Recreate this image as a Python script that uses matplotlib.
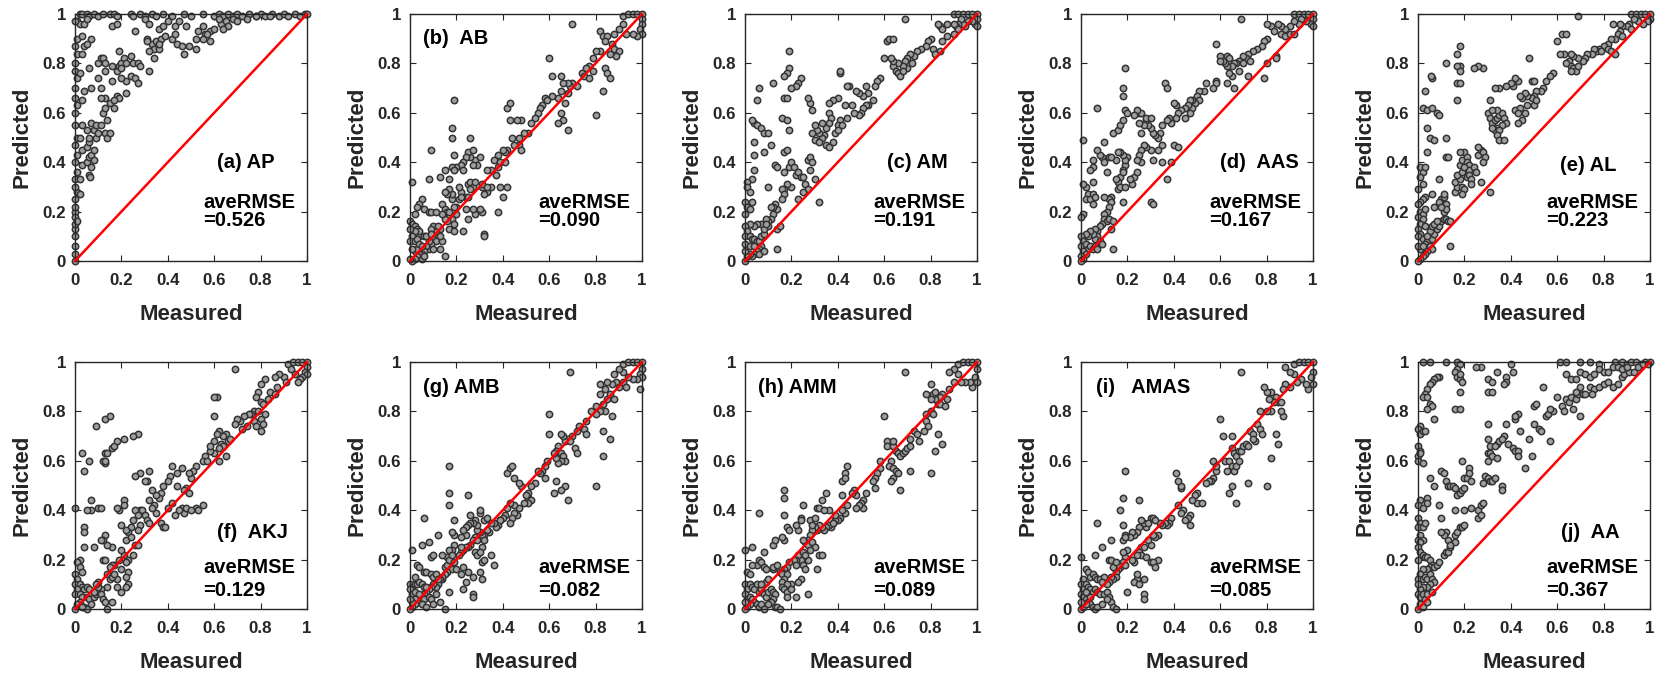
import matplotlib
matplotlib.use('Agg')
import matplotlib.pyplot as plt
import numpy as np

plt.rcParams['font.family'] = ['Liberation Sans', 'DejaVu Sans']
plt.rcParams['font.weight'] = 'bold'

TICKS = [0, 0.2, 0.4, 0.6, 0.8, 1]
TICK_LABELS = ['0', '0.2', '0.4', '0.6', '0.8', '1']

# (measured, predicted) pairs
AP_POINTS = [
    (0.02, 1.0), (0.03, 1.0), (0.05, 1.0), (0.06, 0.99), (0.08, 1.0), (0.1, 0.99), (0.12, 1.0), (0.15, 1.0),
    (0.17, 1.0), (0.18, 0.99), (0.24, 1.0), (0.25, 0.99), (0.28, 1.0), (0.3, 0.99), (0.33, 1.0), (0.35, 0.99),
    (0.38, 1.0), (0.42, 0.99), (0.47, 1.0), (0.5, 0.99), (0.55, 1.0), (0.6, 0.99), (0.62, 1.0), (0.64, 0.99),
    (0.66, 1.0), (0.68, 0.99), (0.7, 1.0), (0.72, 0.99), (0.75, 1.0), (0.78, 0.99), (0.8, 1.0), (0.82, 0.99),
    (0.85, 1.0), (0.88, 0.99), (0.9, 1.0), (0.92, 0.99), (0.95, 1.0), (0.97, 0.99), (0.99, 1.0), (1.0, 1.0),
    (0.01, 0.97), (0.02, 0.96), (0.04, 0.96), (0.05, 0.98), (0.16, 0.95), (0.18, 0.96), (0.3, 0.98), (0.32, 0.96),
    (0.4, 0.97), (0.43, 0.95), (0.45, 0.97), (0.48, 0.95), (0.53, 0.93), (0.55, 0.95), (0.56, 0.92), (0.58, 0.93),
    (0.6, 0.94), (0.63, 0.96), (0.65, 0.97), (0.66, 0.95), (0.64, 0.94), (0.68, 0.98), (0.7, 0.97), (0.74, 0.98),
    (0.78, 0.99), (0.84, 0.99), (0.62, 0.98), (0.31, 0.9), (0.33, 0.88), (0.34, 0.86), (0.35, 0.89), (0.36, 0.86),
    (0.37, 0.9), (0.39, 0.91), (0.42, 0.9), (0.43, 0.92), (0.44, 0.88), (0.46, 0.87), (0.47, 0.84), (0.49, 0.87),
    (0.52, 0.9), (0.52, 0.86), (0.55, 0.9), (0.57, 0.92), (0.58, 0.89), (0.36, 0.94), (0.38, 0.95), (0.26, 0.93),
    (0.0, 0.0), (0.0, 0.03), (0.0, 0.1), (0.0, 0.13), (0.0, 0.15), (0.0, 0.2), (0.0, 0.22), (0.0, 0.25),
    (0.01, 0.28), (0.0, 0.3), (0.0, 0.33), (0.01, 0.36), (0.0, 0.4), (0.01, 0.43), (0.0, 0.47), (0.01, 0.5),
    (0.0, 0.55), (0.0, 0.6), (0.01, 0.63), (0.0, 0.66), (0.0, 0.7), (0.01, 0.74), (0.0, 0.77), (0.0, 0.8),
    (0.01, 0.84), (0.0, 0.87), (0.01, 0.9), (0.0, 0.97), (0.0, 0.18), (0.01, 0.16), (0.0, 0.06),
    (0.02, 0.27), (0.02, 0.33), (0.03, 0.39), (0.03, 0.45), (0.02, 0.5), (0.03, 0.55), (0.03, 0.65), (0.04, 0.69),
    (0.02, 0.76), (0.03, 0.84), (0.04, 0.87), (0.03, 0.91), (0.05, 0.4), (0.05, 0.46), (0.06, 0.42), (0.06, 0.48),
    (0.07, 0.43), (0.07, 0.38), (0.08, 0.45), (0.08, 0.41), (0.06, 0.35), (0.065, 0.34), (0.06, 0.5), (0.05, 0.53),
    (0.07, 0.56), (0.08, 0.53), (0.09, 0.5), (0.1, 0.52), (0.09, 0.55), (0.11, 0.55), (0.13, 0.52), (0.14, 0.57),
    (0.12, 0.6), (0.13, 0.62), (0.15, 0.64), (0.13, 0.66), (0.11, 0.66), (0.11, 0.7), (0.1, 0.74), (0.07, 0.7),
    (0.06, 0.78), (0.1, 0.8), (0.11, 0.82), (0.12, 0.82), (0.13, 0.8), (0.16, 0.79), (0.18, 0.77), (0.19, 0.79),
    (0.2, 0.8), (0.21, 0.82), (0.2, 0.78), (0.22, 0.8), (0.25, 0.8), (0.27, 0.8), (0.28, 0.79), (0.24, 0.75),
    (0.22, 0.73), (0.26, 0.74), (0.27, 0.72), (0.22, 0.68), (0.18, 0.67), (0.19, 0.66), (0.17, 0.65), (0.17, 0.62),
    (0.2, 0.74), (0.16, 0.73), (0.13, 0.77), (0.19, 0.85), (0.24, 0.83), (0.31, 0.89), (0.32, 0.85), (0.36, 0.88),
    (0.34, 0.82), (0.32, 0.77), (0.14, 0.5), (0.15, 0.52), (0.07, 0.9), (0.05, 0.88),
]

AB_POINTS = [
    (0.92, 0.99), (0.94, 1.0), (0.96, 1.0), (0.98, 1.0), (1.0, 1.0), (1.0, 0.98), (1.0, 0.96), (0.99, 0.94),
    (1.0, 0.92), (0.98, 0.91), (0.96, 0.92), (0.93, 0.92), (0.92, 0.96), (0.9, 0.94), (0.88, 0.92), (0.7, 0.96),
    (0.82, 0.93), (0.83, 0.91), (0.85, 0.91), (0.84, 0.89), (0.87, 0.88), (0.88, 0.86), (0.9, 0.85), (0.89, 0.83),
    (0.86, 0.84), (0.82, 0.85), (0.8, 0.85), (0.79, 0.82), (0.77, 0.79), (0.76, 0.78), (0.74, 0.76), (0.75, 0.75),
    (0.77, 0.74), (0.79, 0.77), (0.84, 0.78), (0.85, 0.76), (0.86, 0.74), (0.8, 0.59), (0.83, 0.69), (0.72, 0.71),
    (0.7, 0.72), (0.69, 0.71), (0.68, 0.72), (0.66, 0.72), (0.65, 0.69), (0.64, 0.66), (0.67, 0.64), (0.68, 0.68),
    (0.66, 0.57), (0.68, 0.53), (0.65, 0.6), (0.64, 0.56), (0.6, 0.82), (0.61, 0.75), (0.65, 0.75), (0.58, 0.66),
    (0.59, 0.65), (0.61, 0.67), (0.57, 0.63), (0.56, 0.62), (0.55, 0.6), (0.54, 0.58), (0.52, 0.56), (0.51, 0.52),
    (0.49, 0.52), (0.48, 0.57), (0.46, 0.57), (0.43, 0.57), (0.42, 0.62), (0.43, 0.64), (0.47, 0.5), (0.44, 0.5),
    (0.47, 0.47), (0.48, 0.45), (0.45, 0.47), (0.42, 0.45), (0.41, 0.44), (0.4, 0.45), (0.38, 0.43), (0.36, 0.41),
    (0.38, 0.38), (0.37, 0.35), (0.35, 0.37), (0.33, 0.37), (0.35, 0.3), (0.31, 0.3), (0.33, 0.28), (0.32, 0.27),
    (0.31, 0.2), (0.28, 0.41), (0.3, 0.42), (0.29, 0.39), (0.27, 0.39), (0.26, 0.42), (0.25, 0.44), (0.27, 0.45),
    (0.26, 0.5), (0.24, 0.42), (0.23, 0.4), (0.22, 0.39), (0.2, 0.38), (0.23, 0.37), (0.25, 0.31), (0.26, 0.32),
    (0.27, 0.3), (0.28, 0.32), (0.26, 0.29), (0.24, 0.26), (0.22, 0.28), (0.21, 0.25), (0.2, 0.22), (0.2, 0.19),
    (0.19, 0.22), (0.18, 0.25), (0.18, 0.27), (0.17, 0.29), (0.16, 0.27), (0.15, 0.28), (0.14, 0.23), (0.15, 0.21),
    (0.16, 0.2), (0.17, 0.2), (0.18, 0.17), (0.19, 0.15), (0.17, 0.13), (0.16, 0.16), (0.15, 0.17), (0.14, 0.19),
    (0.13, 0.13), (0.12, 0.1), (0.11, 0.12), (0.1, 0.14), (0.09, 0.13), (0.1, 0.09), (0.11, 0.08), (0.09, 0.07),
    (0.08, 0.08), (0.08, 0.05), (0.07, 0.06), (0.06, 0.04), (0.05, 0.03), (0.04, 0.03), (0.03, 0.02), (0.02, 0.01),
    (0.01, 0.0), (0.0, 0.01), (0.02, 0.04), (0.03, 0.05), (0.05, 0.01), (0.06, 0.02), (0.15, 0.02), (0.04, 0.1),
    (0.19, 0.65), (0.18, 0.54), (0.18, 0.5), (0.19, 0.43), (0.18, 0.38), (0.19, 0.37), (0.17, 0.33), (0.09, 0.45),
    (0.08, 0.33), (0.13, 0.34), (0.15, 0.37), (0.05, 0.25), (0.04, 0.23), (0.01, 0.32), (0.03, 0.22), (0.02, 0.19),
    (0.06, 0.21), (0.08, 0.2), (0.09, 0.2), (0.11, 0.2), (0.0, 0.16), (0.01, 0.15), (0.02, 0.14), (0.03, 0.13),
    (0.04, 0.12), (0.02, 0.12), (0.01, 0.1), (0.0, 0.08), (0.02, 0.08), (0.03, 0.09), (0.04, 0.07), (0.01, 0.05),
    (0.0, 0.13), (0.06, 0.1), (0.05, 0.06), (0.07, 0.1), (0.09, 0.11), (0.12, 0.14), (0.1, 0.05), (0.14, 0.08),
    (0.13, 0.05), (0.23, 0.12), (0.25, 0.17), (0.28, 0.19), (0.3, 0.21), (0.31, 0.31), (0.33, 0.3), (0.38, 0.2),
    (0.32, 0.11), (0.32, 0.1), (0.19, 0.12), (0.4, 0.26), (0.42, 0.3), (0.39, 0.3), (0.39, 0.4), (0.41, 0.4),
    (0.21, 0.3), (0.22, 0.26), (0.24, 0.21), (0.27, 0.21), (0.25, 0.26), (0.13, 0.1),
]

AM_POINTS = [
    (0.9, 1.0), (0.92, 1.0), (0.94, 1.0), (0.96, 1.0), (0.98, 1.0), (1.0, 1.0), (1.0, 0.98), (0.99, 0.96),
    (1.0, 0.95), (0.98, 0.97), (0.96, 0.97), (0.95, 0.95), (0.94, 0.96), (0.93, 0.98), (0.92, 0.96), (0.91, 0.95),
    (0.92, 0.94), (0.9, 0.92), (0.9, 0.96), (0.87, 0.96), (0.84, 0.95), (0.85, 0.94), (0.83, 0.96), (0.87, 0.91),
    (0.69, 0.98), (0.85, 0.89), (0.84, 0.85), (0.8, 0.9), (0.79, 0.89), (0.81, 0.86), (0.82, 0.84), (0.78, 0.87),
    (0.76, 0.86), (0.74, 0.85), (0.73, 0.83), (0.71, 0.84), (0.7, 0.82), (0.69, 0.81), (0.72, 0.8), (0.7, 0.78),
    (0.68, 0.79), (0.66, 0.8), (0.64, 0.79), (0.65, 0.77), (0.66, 0.76), (0.67, 0.75), (0.68, 0.77), (0.64, 0.81),
    (0.63, 0.82), (0.61, 0.89), (0.62, 0.9), (0.64, 0.9), (0.6, 0.82), (0.58, 0.74), (0.57, 0.73), (0.56, 0.71),
    (0.52, 0.71), (0.53, 0.68), (0.51, 0.67), (0.49, 0.68), (0.48, 0.69), (0.55, 0.65), (0.53, 0.63), (0.52, 0.63),
    (0.51, 0.62), (0.5, 0.6), (0.49, 0.59), (0.47, 0.6), (0.46, 0.63), (0.43, 0.63), (0.44, 0.58), (0.41, 0.57),
    (0.4, 0.55), (0.39, 0.52), (0.38, 0.48), (0.4, 0.53), (0.42, 0.55), (0.45, 0.71), (0.44, 0.71), (0.41, 0.76),
    (0.41, 0.77), (0.4, 0.66), (0.38, 0.65), (0.36, 0.64), (0.36, 0.6), (0.37, 0.58), (0.36, 0.56), (0.35, 0.54),
    (0.34, 0.51), (0.33, 0.5), (0.32, 0.52), (0.31, 0.53), (0.3, 0.55), (0.29, 0.52), (0.3, 0.49), (0.32, 0.48),
    (0.35, 0.47), (0.36, 0.46), (0.33, 0.56), (0.29, 0.61), (0.28, 0.64), (0.27, 0.66), (0.24, 0.74), (0.23, 0.72),
    (0.22, 0.71), (0.2, 0.7), (0.19, 0.78), (0.18, 0.76), (0.17, 0.75), (0.19, 0.85), (0.17, 0.66), (0.18, 0.66),
    (0.16, 0.58), (0.18, 0.57), (0.19, 0.53), (0.12, 0.72), (0.06, 0.7), (0.05, 0.65), (0.04, 0.56), (0.03, 0.57),
    (0.05, 0.55), (0.07, 0.54), (0.08, 0.52), (0.1, 0.52), (0.04, 0.48), (0.04, 0.43), (0.08, 0.44), (0.04, 0.37),
    (0.03, 0.33), (0.01, 0.32), (0.01, 0.3), (0.02, 0.28), (0.0, 0.24), (0.01, 0.22), (0.02, 0.21), (0.0, 0.19),
    (0.03, 0.24), (0.11, 0.47), (0.13, 0.39), (0.14, 0.38), (0.17, 0.44), (0.18, 0.45), (0.17, 0.36), (0.19, 0.38),
    (0.2, 0.4), (0.21, 0.38), (0.22, 0.35), (0.23, 0.36), (0.24, 0.34), (0.25, 0.34), (0.26, 0.31), (0.27, 0.41),
    (0.28, 0.42), (0.29, 0.4), (0.28, 0.37), (0.3, 0.33), (0.27, 0.29), (0.2, 0.3), (0.18, 0.31), (0.17, 0.29),
    (0.16, 0.29), (0.17, 0.27), (0.16, 0.25), (0.23, 0.25), (0.25, 0.28), (0.32, 0.24), (0.1, 0.3), (0.14, 0.21),
    (0.13, 0.23), (0.12, 0.22), (0.11, 0.22), (0.12, 0.19), (0.11, 0.17), (0.1, 0.16), (0.09, 0.17), (0.1, 0.14),
    (0.07, 0.15), (0.05, 0.15), (0.04, 0.14), (0.02, 0.15), (0.0, 0.14), (0.01, 0.12), (0.0, 0.1), (0.02, 0.1),
    (0.03, 0.09), (0.04, 0.09), (0.05, 0.08), (0.06, 0.08), (0.07, 0.1), (0.08, 0.11), (0.07, 0.06), (0.06, 0.05),
    (0.05, 0.04), (0.04, 0.03), (0.03, 0.02), (0.02, 0.03), (0.01, 0.02), (0.0, 0.0), (0.0, 0.04), (0.01, 0.06),
    (0.0, 0.07), (0.02, 0.06), (0.04, 0.06), (0.06, 0.03), (0.08, 0.04), (0.14, 0.13), (0.15, 0.14), (0.14, 0.05),
    (0.08, 0.13), (0.09, 0.15),
]

AAS_POINTS = [
    (0.92, 1.0), (0.94, 1.0), (0.96, 1.0), (0.98, 1.0), (1.0, 1.0), (1.0, 0.98), (0.99, 0.96), (1.0, 0.95),
    (0.97, 0.97), (0.95, 0.98), (0.94, 0.96), (0.92, 0.97), (0.9, 0.95), (0.88, 0.94), (0.86, 0.95), (0.85, 0.96),
    (0.82, 0.95), (0.8, 0.96), (0.83, 0.93), (0.86, 0.92), (0.88, 0.91), (0.9, 0.92), (0.92, 0.92), (0.69, 0.98),
    (0.8, 0.9), (0.79, 0.89), (0.78, 0.87), (0.76, 0.86), (0.74, 0.85), (0.72, 0.84), (0.71, 0.82), (0.7, 0.83),
    (0.68, 0.81), (0.67, 0.8), (0.66, 0.8), (0.65, 0.79), (0.63, 0.79), (0.62, 0.8), (0.61, 0.81), (0.6, 0.83),
    (0.6, 0.81), (0.58, 0.88), (0.63, 0.83), (0.64, 0.82), (0.7, 0.8), (0.73, 0.81), (0.8, 0.8), (0.84, 0.83),
    (0.84, 0.82), (0.79, 0.74), (0.68, 0.77), (0.65, 0.75), (0.64, 0.76), (0.63, 0.72), (0.66, 0.7), (0.72, 0.75),
    (0.58, 0.73), (0.58, 0.72), (0.57, 0.7), (0.54, 0.72), (0.53, 0.69), (0.51, 0.69), (0.5, 0.67), (0.51, 0.65),
    (0.49, 0.64), (0.48, 0.65), (0.47, 0.65), (0.48, 0.62), (0.46, 0.63), (0.45, 0.62), (0.43, 0.61), (0.42, 0.6),
    (0.47, 0.6), (0.45, 0.58), (0.41, 0.58), (0.39, 0.56), (0.38, 0.58), (0.37, 0.57), (0.35, 0.55), (0.34, 0.52),
    (0.33, 0.5), (0.32, 0.51), (0.31, 0.52), (0.3, 0.54), (0.29, 0.55), (0.28, 0.57), (0.28, 0.58), (0.27, 0.55),
    (0.26, 0.52), (0.25, 0.56), (0.25, 0.6), (0.26, 0.6), (0.3, 0.58), (0.36, 0.72), (0.37, 0.7), (0.41, 0.63),
    (0.4, 0.64), (0.35, 0.47), (0.4, 0.47), (0.42, 0.46), (0.39, 0.4), (0.33, 0.45), (0.31, 0.41), (0.3, 0.45),
    (0.28, 0.46), (0.27, 0.47), (0.26, 0.45), (0.25, 0.43), (0.26, 0.4), (0.24, 0.41), (0.23, 0.34), (0.24, 0.36),
    (0.22, 0.31), (0.21, 0.33), (0.2, 0.42), (0.19, 0.39), (0.19, 0.41), (0.18, 0.43), (0.17, 0.44), (0.16, 0.44),
    (0.15, 0.41), (0.18, 0.37), (0.17, 0.34), (0.16, 0.32), (0.15, 0.33), (0.16, 0.29), (0.17, 0.3), (0.19, 0.3),
    (0.18, 0.36), (0.14, 0.52), (0.16, 0.53), (0.17, 0.55), (0.18, 0.57), (0.19, 0.61), (0.2, 0.6), (0.24, 0.61),
    (0.23, 0.59), (0.18, 0.67), (0.18, 0.7), (0.19, 0.78), (0.07, 0.62), (0.1, 0.48), (0.09, 0.42), (0.1, 0.4),
    (0.12, 0.42), (0.13, 0.42), (0.11, 0.36), (0.08, 0.43), (0.07, 0.45), (0.05, 0.41), (0.05, 0.38), (0.04, 0.37),
    (0.05, 0.32), (0.02, 0.3), (0.01, 0.31), (0.03, 0.27), (0.02, 0.25), (0.04, 0.25), (0.05, 0.27), (0.06, 0.26),
    (0.05, 0.23), (0.01, 0.49), (0.01, 0.19), (0.0, 0.18), (0.13, 0.26), (0.12, 0.25), (0.13, 0.24), (0.12, 0.22),
    (0.11, 0.2), (0.1, 0.19), (0.1, 0.17), (0.11, 0.16), (0.12, 0.17), (0.13, 0.13), (0.14, 0.16), (0.09, 0.15),
    (0.08, 0.14), (0.07, 0.12), (0.06, 0.13), (0.07, 0.1), (0.06, 0.09), (0.05, 0.11), (0.04, 0.12), (0.03, 0.1),
    (0.02, 0.11), (0.0, 0.1), (0.01, 0.08), (0.0, 0.06), (0.02, 0.07), (0.03, 0.05), (0.04, 0.06), (0.05, 0.05),
    (0.06, 0.06), (0.08, 0.08), (0.09, 0.07), (0.07, 0.05), (0.01, 0.04), (0.02, 0.03), (0.0, 0.02), (0.01, 0.01),
    (0.0, 0.0), (0.14, 0.05), (0.18, 0.24), (0.3, 0.24), (0.31, 0.23), (0.35, 0.4), (0.37, 0.33), (0.1, 0.26),
]

AL_POINTS = [
    (0.92, 1.0), (0.94, 1.0), (0.96, 1.0), (0.98, 1.0), (1.0, 1.0), (1.0, 0.98), (0.99, 0.97), (0.97, 0.96),
    (0.95, 0.97), (0.93, 0.98), (0.91, 0.96), (0.9, 0.95), (0.92, 0.94), (0.88, 0.95), (0.87, 0.93), (0.86, 0.92),
    (0.85, 0.9), (0.88, 0.91), (0.87, 0.96), (0.84, 0.96), (0.69, 0.99), (0.83, 0.9), (0.82, 0.88), (0.8, 0.87),
    (0.78, 0.86), (0.77, 0.85), (0.76, 0.86), (0.82, 0.86), (0.83, 0.85), (0.79, 0.85), (0.75, 0.84), (0.73, 0.84),
    (0.72, 0.82), (0.71, 0.81), (0.69, 0.82), (0.67, 0.83), (0.66, 0.84), (0.65, 0.81), (0.66, 0.79), (0.67, 0.78),
    (0.68, 0.77), (0.66, 0.77), (0.64, 0.8), (0.63, 0.84), (0.61, 0.84), (0.6, 0.89), (0.62, 0.92), (0.64, 0.92),
    (0.69, 0.79), (0.85, 0.84), (0.58, 0.76), (0.57, 0.75), (0.55, 0.73), (0.54, 0.7), (0.53, 0.69), (0.51, 0.69),
    (0.5, 0.67), (0.49, 0.66), (0.49, 0.73), (0.5, 0.73), (0.47, 0.67), (0.46, 0.68), (0.45, 0.66), (0.44, 0.67),
    (0.43, 0.73), (0.42, 0.74), (0.41, 0.71), (0.4, 0.72), (0.38, 0.71), (0.35, 0.7), (0.33, 0.7), (0.31, 0.65),
    (0.3, 0.6), (0.31, 0.58), (0.32, 0.56), (0.33, 0.57), (0.34, 0.58), (0.35, 0.59), (0.36, 0.6), (0.37, 0.58),
    (0.38, 0.56), (0.36, 0.55), (0.34, 0.54), (0.33, 0.53), (0.32, 0.54), (0.35, 0.53), (0.34, 0.51), (0.35, 0.49),
    (0.37, 0.49), (0.34, 0.61), (0.32, 0.61), (0.42, 0.61), (0.44, 0.62), (0.46, 0.6), (0.43, 0.6), (0.45, 0.57),
    (0.43, 0.56), (0.47, 0.63), (0.5, 0.63), (0.51, 0.65), (0.48, 0.82), (0.28, 0.78), (0.26, 0.79), (0.24, 0.78),
    (0.18, 0.79), (0.17, 0.79), (0.18, 0.77), (0.17, 0.72), (0.18, 0.72), (0.17, 0.65), (0.17, 0.84), (0.18, 0.87),
    (0.12, 0.8), (0.06, 0.74), (0.055, 0.75), (0.03, 0.69), (0.02, 0.62), (0.04, 0.61), (0.06, 0.62), (0.08, 0.6),
    (0.09, 0.59), (0.04, 0.54), (0.05, 0.5), (0.04, 0.44), (0.07, 0.49), (0.12, 0.5), (0.12, 0.42), (0.13, 0.42),
    (0.09, 0.33), (0.1, 0.25), (0.11, 0.26), (0.11, 0.2), (0.12, 0.23), (0.12, 0.21), (0.09, 0.24), (0.1, 0.22),
    (0.11, 0.27), (0.07, 0.22), (0.06, 0.27), (0.03, 0.26), (0.02, 0.25), (0.01, 0.24), (0.0, 0.23), (0.01, 0.2),
    (0.02, 0.19), (0.03, 0.21), (0.0, 0.18), (0.02, 0.17), (0.01, 0.15), (0.03, 0.14), (0.0, 0.13), (0.01, 0.11),
    (0.0, 0.1), (0.02, 0.09), (0.04, 0.08), (0.03, 0.07), (0.05, 0.06), (0.06, 0.05), (0.04, 0.04), (0.03, 0.03),
    (0.02, 0.02), (0.01, 0.01), (0.0, 0.0), (0.01, 0.05), (0.0, 0.06), (0.02, 0.06), (0.06, 0.09), (0.07, 0.11),
    (0.08, 0.13), (0.09, 0.14), (0.1, 0.16), (0.11, 0.17), (0.12, 0.17), (0.13, 0.16), (0.14, 0.16), (0.05, 0.12),
    (0.06, 0.14), (0.07, 0.15), (0.08, 0.16), (0.04, 0.1), (0.01, 0.38), (0.02, 0.36), (0.01, 0.34), (0.02, 0.31),
    (0.0, 0.29), (0.03, 0.38), (0.14, 0.06), (0.16, 0.28), (0.17, 0.3), (0.16, 0.32), (0.18, 0.33), (0.17, 0.35),
    (0.19, 0.36), (0.18, 0.39), (0.19, 0.41), (0.2, 0.44), (0.21, 0.42), (0.21, 0.4), (0.22, 0.39), (0.22, 0.37),
    (0.2, 0.38), (0.21, 0.34), (0.22, 0.35), (0.23, 0.33), (0.23, 0.31), (0.24, 0.38), (0.25, 0.36), (0.26, 0.43),
    (0.27, 0.45), (0.26, 0.46), (0.28, 0.44), (0.29, 0.42), (0.28, 0.4), (0.27, 0.32), (0.31, 0.28), (0.18, 0.44),
    (0.19, 0.3), (0.2, 0.29), (0.19, 0.27),
]

AKJ_POINTS = [
    (0.92, 0.99), (0.94, 1.0), (0.96, 1.0), (0.98, 1.0), (1.0, 1.0), (1.0, 0.98), (0.99, 0.96), (1.0, 0.95),
    (0.98, 0.94), (0.97, 0.93), (0.96, 0.92), (0.95, 0.95), (0.93, 0.97), (0.9, 0.94), (0.91, 0.92), (0.88, 0.95),
    (0.86, 0.94), (0.87, 0.9), (0.84, 0.88), (0.86, 0.87), (0.82, 0.93), (0.8, 0.91), (0.79, 0.88), (0.8, 0.84),
    (0.78, 0.86), (0.81, 0.83), (0.83, 0.85), (0.82, 0.79), (0.8, 0.77), (0.77, 0.8), (0.76, 0.79), (0.75, 0.79),
    (0.73, 0.78), (0.71, 0.76), (0.7, 0.77), (0.69, 0.75), (0.74, 0.74), (0.72, 0.73), (0.77, 0.76), (0.78, 0.74),
    (0.79, 0.8), (0.81, 0.75), (0.8, 0.72), (0.69, 0.97), (0.65, 0.71), (0.64, 0.7), (0.66, 0.68), (0.67, 0.69),
    (0.62, 0.72), (0.61, 0.71), (0.6, 0.68), (0.63, 0.67), (0.64, 0.66), (0.62, 0.65), (0.65, 0.62), (0.62, 0.6),
    (0.6, 0.63), (0.58, 0.64), (0.58, 0.66), (0.56, 0.62), (0.55, 0.6), (0.52, 0.58), (0.57, 0.6), (0.61, 0.86),
    (0.6, 0.86), (0.6, 0.78), (0.51, 0.56), (0.5, 0.53), (0.49, 0.55), (0.48, 0.49), (0.47, 0.48), (0.49, 0.47),
    (0.46, 0.57), (0.44, 0.55), (0.42, 0.58), (0.41, 0.54), (0.4, 0.52), (0.38, 0.5), (0.37, 0.47), (0.36, 0.45),
    (0.35, 0.46), (0.34, 0.42), (0.33, 0.41), (0.32, 0.44), (0.31, 0.52), (0.32, 0.56), (0.3, 0.52), (0.28, 0.55),
    (0.26, 0.54), (0.27, 0.71), (0.25, 0.7), (0.28, 0.4), (0.29, 0.4), (0.3, 0.38), (0.31, 0.36), (0.32, 0.35),
    (0.33, 0.48), (0.35, 0.39), (0.37, 0.35), (0.38, 0.33), (0.39, 0.33), (0.43, 0.38), (0.46, 0.41), (0.47, 0.39),
    (0.48, 0.41), (0.52, 0.41), (0.53, 0.4), (0.55, 0.42), (0.5, 0.4), (0.45, 0.4), (0.44, 0.5), (0.42, 0.43),
    (0.4, 0.41), (0.26, 0.4), (0.27, 0.38), (0.25, 0.36), (0.24, 0.33), (0.23, 0.31), (0.22, 0.32), (0.2, 0.34),
    (0.21, 0.44), (0.21, 0.42), (0.19, 0.4), (0.18, 0.41), (0.28, 0.34), (0.27, 0.32), (0.26, 0.26), (0.27, 0.26),
    (0.22, 0.28), (0.24, 0.29), (0.25, 0.22), (0.23, 0.2), (0.22, 0.19), (0.23, 0.15), (0.22, 0.13), (0.23, 0.1),
    (0.2, 0.16), (0.21, 0.22), (0.2, 0.24), (0.22, 0.09), (0.2, 0.07), (0.18, 0.12), (0.17, 0.18), (0.16, 0.18),
    (0.15, 0.17), (0.14, 0.14), (0.15, 0.12), (0.14, 0.09), (0.16, 0.13), (0.17, 0.14), (0.18, 0.09), (0.19, 0.2),
    (0.16, 0.25), (0.14, 0.26), (0.13, 0.3), (0.12, 0.28), (0.13, 0.59), (0.12, 0.6), (0.13, 0.6), (0.13, 0.63),
    (0.14, 0.63), (0.13, 0.77), (0.15, 0.78), (0.16, 0.65), (0.17, 0.66), (0.18, 0.68), (0.21, 0.69), (0.09, 0.74),
    (0.03, 0.63), (0.06, 0.6), (0.04, 0.56), (0.0, 0.41), (0.07, 0.4), (0.1, 0.41), (0.11, 0.41), (0.07, 0.44),
    (0.05, 0.4), (0.04, 0.33), (0.04, 0.31), (0.04, 0.25), (0.08, 0.25), (0.11, 0.28), (0.12, 0.2), (0.13, 0.2),
    (0.02, 0.2), (0.01, 0.19), (0.02, 0.17), (0.03, 0.15), (0.0, 0.14), (0.01, 0.12), (0.0, 0.1), (0.02, 0.1),
    (0.03, 0.09), (0.04, 0.08), (0.05, 0.09), (0.06, 0.08), (0.01, 0.08), (0.0, 0.06), (0.02, 0.06), (0.03, 0.05),
    (0.05, 0.05), (0.06, 0.04), (0.08, 0.05), (0.09, 0.06), (0.1, 0.07), (0.11, 0.08), (0.1, 0.09), (0.11, 0.06),
    (0.12, 0.04), (0.13, 0.03), (0.14, 0.0), (0.1, 0.11), (0.09, 0.1), (0.02, 0.03), (0.01, 0.02), (0.0, 0.0),
    (0.04, 0.01), (0.07, 0.02), (0.05, 0.0), (0.08, 0.07), (0.16, 0.03), (0.03, 0.01),
]

AMB_POINTS = [
    (0.92, 0.99), (0.94, 1.0), (0.96, 1.0), (0.98, 1.0), (1.0, 1.0), (1.0, 0.97), (0.99, 0.95), (1.0, 0.94),
    (0.98, 0.93), (0.96, 0.93), (0.94, 0.94), (0.92, 0.96), (0.9, 0.97), (0.88, 0.95), (0.89, 0.92), (0.87, 0.91),
    (0.9, 0.9), (0.92, 0.92), (0.99, 0.89), (0.93, 0.9), (0.85, 0.92), (0.82, 0.91), (0.84, 0.89), (0.86, 0.87),
    (0.88, 0.85), (0.85, 0.85), (0.82, 0.87), (0.83, 0.83), (0.84, 0.8), (0.82, 0.8), (0.8, 0.79), (0.78, 0.8),
    (0.8, 0.82), (0.87, 0.78), (0.69, 0.96), (0.76, 0.76), (0.75, 0.73), (0.73, 0.74), (0.72, 0.72), (0.7, 0.7),
    (0.68, 0.69), (0.67, 0.68), (0.66, 0.7), (0.69, 0.68), (0.71, 0.65), (0.72, 0.63), (0.64, 0.66), (0.63, 0.64),
    (0.65, 0.63), (0.66, 0.62), (0.67, 0.6), (0.65, 0.6), (0.64, 0.59), (0.63, 0.61), (0.62, 0.63), (0.67, 0.5),
    (0.63, 0.52), (0.62, 0.47), (0.68, 0.44), (0.65, 0.48), (0.6, 0.79), (0.6, 0.71), (0.65, 0.71), (0.76, 0.71),
    (0.8, 0.5), (0.83, 0.62), (0.83, 0.72), (0.86, 0.69), (0.59, 0.6), (0.58, 0.58), (0.57, 0.56), (0.56, 0.55),
    (0.58, 0.53), (0.55, 0.56), (0.54, 0.51), (0.52, 0.5), (0.51, 0.47), (0.51, 0.45), (0.52, 0.44), (0.51, 0.43),
    (0.5, 0.46), (0.48, 0.5), (0.49, 0.43), (0.47, 0.41), (0.46, 0.38), (0.45, 0.39), (0.45, 0.42), (0.43, 0.43),
    (0.42, 0.41), (0.44, 0.37), (0.43, 0.35), (0.41, 0.38), (0.4, 0.37), (0.39, 0.36), (0.38, 0.34), (0.37, 0.33),
    (0.36, 0.35), (0.35, 0.35), (0.34, 0.31), (0.33, 0.32), (0.32, 0.3), (0.31, 0.3), (0.3, 0.31), (0.29, 0.32),
    (0.29, 0.34), (0.28, 0.36), (0.27, 0.35), (0.26, 0.35), (0.25, 0.34), (0.24, 0.33), (0.26, 0.38), (0.3, 0.39),
    (0.3, 0.4), (0.32, 0.36), (0.33, 0.37), (0.32, 0.28), (0.31, 0.25), (0.28, 0.29), (0.27, 0.28), (0.26, 0.26),
    (0.25, 0.25), (0.24, 0.25), (0.23, 0.24), (0.22, 0.23), (0.21, 0.22), (0.22, 0.25), (0.28, 0.23), (0.29, 0.22),
    (0.31, 0.19), (0.35, 0.22), (0.39, 0.36), (0.42, 0.55), (0.43, 0.57), (0.44, 0.58), (0.45, 0.53), (0.47, 0.51),
    (0.25, 0.46), (0.3, 0.23), (0.29, 0.28), (0.24, 0.3), (0.22, 0.29), (0.23, 0.32), (0.19, 0.3), (0.18, 0.31),
    (0.19, 0.26), (0.18, 0.24), (0.17, 0.24), (0.16, 0.21), (0.15, 0.17), (0.16, 0.18), (0.17, 0.2), (0.18, 0.22),
    (0.19, 0.19), (0.18, 0.16), (0.16, 0.15), (0.15, 0.14), (0.14, 0.12), (0.14, 0.13), (0.13, 0.12), (0.12, 0.1),
    (0.11, 0.09), (0.1, 0.1), (0.09, 0.09), (0.08, 0.08), (0.07, 0.07), (0.06, 0.06), (0.05, 0.05), (0.04, 0.04),
    (0.03, 0.03), (0.02, 0.02), (0.01, 0.01), (0.0, 0.0), (0.17, 0.58), (0.17, 0.47), (0.17, 0.42), (0.19, 0.36),
    (0.06, 0.37), (0.12, 0.3), (0.08, 0.27), (0.05, 0.26), (0.01, 0.24), (0.09, 0.21), (0.1, 0.22), (0.14, 0.22),
    (0.03, 0.18), (0.04, 0.17), (0.06, 0.15), (0.07, 0.15), (0.09, 0.14), (0.1, 0.13), (0.11, 0.14), (0.12, 0.12),
    (0.02, 0.13), (0.0, 0.1), (0.01, 0.09), (0.02, 0.1), (0.03, 0.1), (0.04, 0.11), (0.05, 0.1), (0.06, 0.09),
    (0.07, 0.09), (0.0, 0.08), (0.01, 0.06), (0.02, 0.07), (0.04, 0.06), (0.06, 0.04), (0.08, 0.05), (0.09, 0.04),
    (0.11, 0.06), (0.13, 0.03), (0.15, 0.0), (0.02, 0.04), (0.05, 0.02), (0.07, 0.01), (0.1, 0.02), (0.01, 0.03),
    (0.0, 0.04), (0.17, 0.07), (0.23, 0.08), (0.24, 0.11), (0.22, 0.14), (0.25, 0.15), (0.3, 0.15), (0.27, 0.13),
    (0.2, 0.16), (0.31, 0.12), (0.32, 0.2), (0.36, 0.18), (0.27, 0.06), (0.27, 0.05), (0.23, 0.17),
]

AMM_POINTS = [
    (0.92, 0.99), (0.94, 1.0), (0.96, 1.0), (0.98, 1.0), (1.0, 1.0), (1.0, 0.97), (0.99, 0.94), (1.0, 0.92),
    (0.98, 0.9), (0.97, 0.92), (0.95, 0.92), (0.93, 0.92), (0.92, 0.95), (0.9, 0.97), (0.88, 0.96), (0.9, 0.92),
    (0.88, 0.89), (0.87, 0.85), (0.85, 0.87), (0.84, 0.86), (0.83, 0.83), (0.82, 0.85), (0.84, 0.83), (0.86, 0.82),
    (0.81, 0.87), (0.82, 0.88), (0.8, 0.91), (0.8, 0.85), (0.78, 0.87), (0.8, 0.8), (0.81, 0.79), (0.78, 0.79),
    (0.78, 0.76), (0.79, 0.74), (0.69, 0.96), (0.6, 0.78), (0.61, 0.68), (0.61, 0.66), (0.64, 0.66), (0.64, 0.68),
    (0.65, 0.64), (0.66, 0.63), (0.67, 0.62), (0.68, 0.63), (0.69, 0.64), (0.7, 0.65), (0.71, 0.66), (0.71, 0.69),
    (0.73, 0.72), (0.74, 0.71), (0.75, 0.68), (0.77, 0.72), (0.8, 0.55), (0.82, 0.64), (0.83, 0.71), (0.85, 0.67),
    (0.63, 0.6), (0.62, 0.58), (0.64, 0.57), (0.65, 0.56), (0.66, 0.55), (0.64, 0.53), (0.63, 0.52), (0.67, 0.48),
    (0.71, 0.56), (0.58, 0.57), (0.57, 0.55), (0.56, 0.53), (0.55, 0.52), (0.56, 0.49), (0.58, 0.6), (0.52, 0.47),
    (0.51, 0.44), (0.5, 0.43), (0.51, 0.41), (0.49, 0.42), (0.48, 0.41), (0.48, 0.46), (0.47, 0.48), (0.46, 0.47),
    (0.44, 0.42), (0.43, 0.39), (0.42, 0.4), (0.41, 0.37), (0.4, 0.36), (0.39, 0.36), (0.38, 0.35), (0.37, 0.33),
    (0.36, 0.34), (0.35, 0.33), (0.34, 0.32), (0.33, 0.33), (0.32, 0.34), (0.31, 0.32), (0.3, 0.33), (0.29, 0.32),
    (0.28, 0.3), (0.27, 0.28), (0.26, 0.27), (0.27, 0.26), (0.25, 0.28), (0.23, 0.32), (0.22, 0.34), (0.24, 0.37),
    (0.24, 0.36), (0.25, 0.42), (0.28, 0.36), (0.29, 0.34), (0.3, 0.37), (0.31, 0.41), (0.32, 0.41), (0.35, 0.47),
    (0.43, 0.55), (0.42, 0.52), (0.43, 0.53), (0.44, 0.58), (0.42, 0.46), (0.38, 0.35), (0.39, 0.38), (0.36, 0.4),
    (0.34, 0.4), (0.33, 0.44), (0.29, 0.27), (0.3, 0.25), (0.27, 0.2), (0.28, 0.24), (0.25, 0.21), (0.24, 0.2),
    (0.23, 0.22), (0.22, 0.2), (0.21, 0.2), (0.22, 0.18), (0.25, 0.23), (0.26, 0.22), (0.25, 0.18), (0.26, 0.16),
    (0.24, 0.12), (0.23, 0.11), (0.2, 0.1), (0.22, 0.05), (0.32, 0.22), (0.33, 0.22), (0.31, 0.16), (0.27, 0.06),
    (0.19, 0.19), (0.18, 0.17), (0.17, 0.16), (0.16, 0.15), (0.15, 0.15), (0.16, 0.14), (0.18, 0.14), (0.17, 0.12),
    (0.16, 0.11), (0.18, 0.1), (0.16, 0.09), (0.17, 0.08), (0.18, 0.07), (0.2, 0.08), (0.18, 0.05), (0.17, 0.45),
    (0.17, 0.48), (0.17, 0.38), (0.18, 0.33), (0.19, 0.32), (0.17, 0.28), (0.16, 0.29), (0.06, 0.39), (0.03, 0.25),
    (0.05, 0.18), (0.06, 0.2), (0.07, 0.19), (0.08, 0.17), (0.09, 0.16), (0.08, 0.23), (0.12, 0.16), (0.12, 0.26),
    (0.13, 0.28), (0.12, 0.17), (0.14, 0.18), (0.0, 0.24), (0.01, 0.15), (0.02, 0.14), (0.03, 0.18), (0.0, 0.1),
    (0.01, 0.08), (0.02, 0.1), (0.03, 0.09), (0.04, 0.08), (0.05, 0.1), (0.06, 0.07), (0.07, 0.08), (0.08, 0.06),
    (0.09, 0.05), (0.1, 0.07), (0.11, 0.08), (0.12, 0.07), (0.13, 0.06), (0.12, 0.04), (0.11, 0.03), (0.13, 0.01),
    (0.14, 0.01), (0.15, 0.0), (0.1, 0.02), (0.09, 0.11), (0.1, 0.12), (0.07, 0.1), (0.0, 0.06), (0.01, 0.04),
    (0.02, 0.05), (0.03, 0.04), (0.04, 0.03), (0.05, 0.02), (0.06, 0.01), (0.07, 0.02), (0.08, 0.0), (0.02, 0.02),
    (0.01, 0.01), (0.0, 0.0), (0.0, 0.03),
]

AMAS_POINTS = [
    (0.92, 0.99), (0.94, 1.0), (0.96, 1.0), (0.98, 1.0), (1.0, 1.0), (1.0, 0.96), (0.99, 0.94), (1.0, 0.91),
    (0.98, 0.89), (0.97, 0.91), (0.95, 0.93), (0.93, 0.92), (0.92, 0.95), (0.9, 0.96), (0.88, 0.98), (0.9, 0.9),
    (0.88, 0.91), (0.87, 0.89), (0.85, 0.84), (0.84, 0.86), (0.83, 0.84), (0.82, 0.88), (0.81, 0.85), (0.8, 0.88),
    (0.79, 0.9), (0.82, 0.8), (0.8, 0.8), (0.77, 0.8), (0.76, 0.75), (0.77, 0.73), (0.78, 0.71), (0.86, 0.84),
    (0.87, 0.78), (0.86, 0.8), (0.69, 0.96), (0.6, 0.77), (0.61, 0.7), (0.65, 0.7), (0.65, 0.65), (0.66, 0.63),
    (0.67, 0.62), (0.68, 0.64), (0.69, 0.64), (0.7, 0.66), (0.71, 0.67), (0.72, 0.66), (0.73, 0.72), (0.74, 0.71),
    (0.75, 0.68), (0.74, 0.69), (0.8, 0.5), (0.82, 0.61), (0.84, 0.71), (0.85, 0.67), (0.62, 0.6), (0.64, 0.6),
    (0.65, 0.58), (0.66, 0.56), (0.67, 0.58), (0.68, 0.6), (0.63, 0.56), (0.65, 0.5), (0.64, 0.47), (0.67, 0.43),
    (0.72, 0.51), (0.58, 0.56), (0.57, 0.53), (0.56, 0.52), (0.55, 0.52), (0.54, 0.51), (0.57, 0.6), (0.58, 0.58),
    (0.5, 0.47), (0.49, 0.46), (0.5, 0.43), (0.52, 0.43), (0.48, 0.44), (0.47, 0.38), (0.46, 0.37), (0.45, 0.36),
    (0.47, 0.34), (0.44, 0.4), (0.43, 0.39), (0.42, 0.42), (0.43, 0.49), (0.43, 0.5), (0.42, 0.52), (0.41, 0.55),
    (0.39, 0.37), (0.38, 0.35), (0.37, 0.34), (0.36, 0.35), (0.35, 0.34), (0.34, 0.35), (0.33, 0.3), (0.32, 0.29),
    (0.31, 0.3), (0.3, 0.26), (0.29, 0.28), (0.28, 0.33), (0.27, 0.35), (0.26, 0.36), (0.3, 0.37), (0.29, 0.35),
    (0.31, 0.37), (0.32, 0.36), (0.25, 0.33), (0.24, 0.31), (0.23, 0.3), (0.22, 0.31), (0.21, 0.29), (0.25, 0.44),
    (0.19, 0.3), (0.18, 0.28), (0.2, 0.24), (0.26, 0.25), (0.27, 0.25), (0.25, 0.23), (0.26, 0.22), (0.24, 0.22),
    (0.23, 0.19), (0.22, 0.2), (0.28, 0.21), (0.3, 0.19), (0.33, 0.2), (0.31, 0.19), (0.32, 0.17), (0.27, 0.12),
    (0.24, 0.12), (0.23, 0.11), (0.25, 0.1), (0.27, 0.06), (0.27, 0.04), (0.2, 0.07), (0.24, 0.14), (0.19, 0.21),
    (0.18, 0.19), (0.17, 0.17), (0.16, 0.16), (0.15, 0.15), (0.16, 0.18), (0.14, 0.17), (0.15, 0.13), (0.14, 0.12),
    (0.13, 0.13), (0.12, 0.11), (0.19, 0.18), (0.18, 0.23), (0.17, 0.4), (0.18, 0.34), (0.19, 0.56), (0.18, 0.45),
    (0.19, 0.29), (0.07, 0.35), (0.06, 0.22), (0.09, 0.25), (0.13, 0.28), (0.12, 0.2), (0.13, 0.2), (0.15, 0.19),
    (0.0, 0.21), (0.02, 0.16), (0.03, 0.15), (0.04, 0.13), (0.05, 0.14), (0.06, 0.13), (0.07, 0.12), (0.08, 0.12),
    (0.1, 0.13), (0.11, 0.1), (0.09, 0.11), (0.01, 0.12), (0.0, 0.1), (0.01, 0.08), (0.02, 0.1), (0.03, 0.09),
    (0.04, 0.08), (0.05, 0.07), (0.06, 0.08), (0.07, 0.07), (0.08, 0.06), (0.1, 0.06), (0.11, 0.07), (0.12, 0.05),
    (0.13, 0.03), (0.14, 0.01), (0.15, 0.0), (0.0, 0.06), (0.01, 0.05), (0.02, 0.04), (0.03, 0.03), (0.04, 0.02),
    (0.05, 0.01), (0.06, 0.0), (0.07, 0.01), (0.09, 0.02), (0.0, 0.0), (0.01, 0.01), (0.02, 0.02), (0.0, 0.03),
    (0.02, 0.07), (0.04, 0.05), (0.11, 0.04),
]

AA_POINTS = [
    (0.02, 1.0), (0.05, 1.0), (0.12, 1.0), (0.17, 1.0), (0.18, 0.99), (0.61, 1.0), (0.64, 1.0), (0.7, 1.0),
    (0.74, 1.0), (0.78, 0.99), (0.85, 1.0), (0.88, 1.0), (0.9, 0.99), (0.92, 1.0), (0.94, 1.0), (0.96, 0.99),
    (0.98, 1.0), (1.0, 1.0), (0.27, 0.98), (0.25, 0.98), (0.4, 0.99), (0.41, 0.96), (0.34, 0.96), (0.3, 0.93),
    (0.32, 0.92), (0.38, 0.94), (0.38, 0.92), (0.37, 0.91), (0.3, 0.88), (0.32, 0.88), (0.17, 0.97), (0.16, 0.96),
    (0.17, 0.94), (0.18, 0.93), (0.18, 0.95), (0.19, 0.92), (0.18, 0.88), (0.16, 0.81), (0.18, 0.81), (0.09, 0.94),
    (0.08, 0.94), (0.07, 0.93), (0.06, 0.92), (0.05, 0.91), (0.04, 0.89), (0.03, 0.87), (0.02, 0.86), (0.04, 0.86),
    (0.05, 0.83), (0.06, 0.82), (0.04, 0.81), (0.07, 0.77), (0.01, 0.74), (0.0, 0.73), (0.01, 0.71), (0.02, 0.72),
    (0.03, 0.72), (0.0, 0.66), (0.01, 0.64), (0.0, 0.62), (0.01, 0.63), (0.0, 0.6), (0.02, 0.59), (0.01, 0.44),
    (0.04, 0.45), (0.0, 0.42), (0.02, 0.41), (0.0, 0.37), (0.01, 0.35), (0.0, 0.33), (0.02, 0.33), (0.03, 0.35),
    (0.01, 0.3), (0.0, 0.28), (0.02, 0.28), (0.01, 0.27), (0.0, 0.25), (0.01, 0.23), (0.0, 0.2), (0.02, 0.22),
    (0.03, 0.21), (0.04, 0.21), (0.05, 0.2), (0.06, 0.18), (0.05, 0.17), (0.04, 0.16), (0.02, 0.16), (0.01, 0.14),
    (0.0, 0.12), (0.02, 0.12), (0.03, 0.13), (0.04, 0.12), (0.05, 0.14), (0.06, 0.12), (0.07, 0.11), (0.05, 0.1),
    (0.04, 0.09), (0.02, 0.09), (0.01, 0.08), (0.0, 0.1), (0.0, 0.06), (0.01, 0.05), (0.02, 0.06), (0.03, 0.04),
    (0.04, 0.06), (0.06, 0.07), (0.01, 0.02), (0.0, 0.0), (0.02, 0.01), (0.04, 0.03), (0.07, 0.17), (0.08, 0.18),
    (0.09, 0.19), (0.11, 0.22), (0.12, 0.23), (0.13, 0.23), (0.14, 0.25), (0.16, 0.27), (0.16, 0.3), (0.17, 0.31),
    (0.18, 0.33), (0.19, 0.33), (0.2, 0.34), (0.13, 0.28), (0.14, 0.26), (0.12, 0.31), (0.11, 0.3), (0.1, 0.31),
    (0.1, 0.37), (0.09, 0.42), (0.1, 0.56), (0.11, 0.55), (0.12, 0.52), (0.13, 0.5), (0.14, 0.5), (0.15, 0.5),
    (0.16, 0.49), (0.17, 0.46), (0.18, 0.47), (0.19, 0.48), (0.2, 0.49), (0.2, 0.53), (0.21, 0.53), (0.22, 0.57),
    (0.23, 0.52), (0.22, 0.55), (0.19, 0.6), (0.16, 0.4), (0.2, 0.4), (0.23, 0.41), (0.26, 0.4), (0.26, 0.37),
    (0.27, 0.38), (0.27, 0.42), (0.28, 0.43), (0.28, 0.51), (0.29, 0.54), (0.3, 0.53), (0.31, 0.52), (0.32, 0.52),
    (0.33, 0.53), (0.36, 0.5), (0.36, 0.48), (0.07, 0.5), (0.05, 0.53), (0.04, 0.43), (0.3, 0.6), (0.3, 0.63),
    (0.31, 0.66), (0.3, 0.69), (0.3, 0.75), (0.31, 0.63), (0.32, 0.62), (0.34, 0.67), (0.34, 0.61), (0.33, 0.66),
    (0.35, 0.68), (0.37, 0.7), (0.36, 0.69), (0.38, 0.75), (0.39, 0.67), (0.41, 0.65), (0.42, 0.64), (0.43, 0.64),
    (0.43, 0.62), (0.46, 0.57), (0.42, 0.77), (0.43, 0.79), (0.42, 0.78), (0.44, 0.72), (0.48, 0.69), (0.5, 0.75),
    (0.5, 0.82), (0.51, 0.83), (0.52, 0.73), (0.53, 0.72), (0.55, 0.78), (0.56, 0.79), (0.58, 0.8), (0.57, 0.81),
    (0.57, 0.68), (0.49, 0.62), (0.54, 0.9), (0.6, 0.86), (0.62, 0.82), (0.63, 0.8), (0.64, 0.85), (0.65, 0.84),
    (0.66, 0.86), (0.67, 0.81), (0.68, 0.85), (0.69, 0.87), (0.7, 0.78), (0.71, 0.87), (0.72, 0.87), (0.74, 0.9),
    (0.76, 0.89), (0.78, 0.9), (0.8, 0.91), (0.82, 0.92), (0.84, 0.9), (0.86, 0.91), (0.88, 0.94), (0.89, 0.95),
    (0.91, 0.96), (0.93, 0.96), (0.95, 0.98), (0.97, 0.99), (0.99, 0.99), (0.64, 0.95), (0.66, 0.93), (0.68, 0.93),
    (0.7, 0.96), (0.72, 0.95), (0.74, 0.94), (0.76, 0.95), (0.78, 0.97), (0.8, 0.96), (0.82, 0.96), (0.84, 0.98),
    (0.86, 0.98), (0.88, 0.97), (0.9, 0.98), (0.68, 0.88), (0.7, 0.9), (0.75, 0.87),
]

TITLES = ['(a) AP', '(b)  AB', '(c) AM', '(d)  AAS', '(e) AL',
          '(f)  AKJ', '(g) AMB', '(h) AMM', '(i)   AMAS', '(j)  AA']
RMSE = [0.526, 0.090, 0.191, 0.167, 0.223, 0.129, 0.082, 0.089, 0.085, 0.367]
POINTS = [AP_POINTS, AB_POINTS, AM_POINTS, AAS_POINTS, AL_POINTS,
          AKJ_POINTS, AMB_POINTS, AMM_POINTS, AMAS_POINTS, AA_POINTS]

# label placement in axes fraction: (x, y, horizontal alignment)
TITLE_POS = [(0.735, 0.40, 'center'), (0.058, 0.90, 'left'), (0.744, 0.40, 'center'),
             (0.77, 0.40, 'center'), (0.735, 0.385, 'center'),
             (0.763, 0.31, 'center'), (0.058, 0.895, 'left'), (0.058, 0.895, 'left'),
             (0.065, 0.895, 'left'), (0.742, 0.31, 'center')]

DARK = '#262626'
W, H = 1655, 676
LEFTS = [75, 410, 745, 1081, 1418]
TOPS = [14, 362]
AX_W, AX_H = 232, 247
TXT = 14.5

fig = plt.figure(figsize=(W / 100, H / 100), dpi=100)

for i, pts in enumerate(POINTS):
    row, col = divmod(i, 5)
    left = LEFTS[col] / W
    bottom = 1 - (TOPS[row] + AX_H) / H
    ax = fig.add_axes([left, bottom, AX_W / W, AX_H / H])
    pts = np.array(pts)
    ax.scatter(pts[:, 0], pts[:, 1], s=21, facecolor='#a0a0a0', edgecolor='#333333',
               linewidths=1.1, clip_on=False, zorder=2)
    ax.plot([0, 1], [0, 1], color='#ff0000', lw=1.8, zorder=3, clip_on=False)
    ax.set_xlim(0, 1)
    ax.set_ylim(0, 1)
    ax.set_xticks(TICKS)
    ax.set_xticklabels(TICK_LABELS)
    ax.set_yticks(TICKS)
    ax.set_yticklabels(TICK_LABELS)
    ax.tick_params(direction='in', top=True, right=True, length=4, width=0.8,
                   labelsize=12.2, colors=DARK)
    ax.tick_params(axis='x', pad=8.5)
    ax.tick_params(axis='y', pad=6.5)
    for sp in ax.spines.values():
        sp.set_color(DARK)
        sp.set_linewidth(1.0)
    ax.set_xlabel('Measured', fontsize=16, fontweight='bold', color=DARK, labelpad=12)
    ax.set_ylabel('Predicted', fontsize=16, fontweight='bold', color=DARK, labelpad=7)

    tx, ty, ha = TITLE_POS[i]
    ax.text(tx, ty, TITLES[i], transform=ax.transAxes, fontsize=TXT,
            fontweight='bold', color='black', va='center', ha=ha)
    if row == 0:
        y1, y2 = 0.237, 0.163
    else:
        y1, y2 = 0.168, 0.076
    ax.text(0.553, y1, 'aveRMSE', transform=ax.transAxes, fontsize=TXT,
            fontweight='bold', color='black', va='center', ha='left')
    ax.text(0.553, y2, f'={RMSE[i]:.3f}', transform=ax.transAxes, fontsize=TXT,
            fontweight='bold', color='black', va='center', ha='left')

fig.savefig('out.png', dpi=100)
